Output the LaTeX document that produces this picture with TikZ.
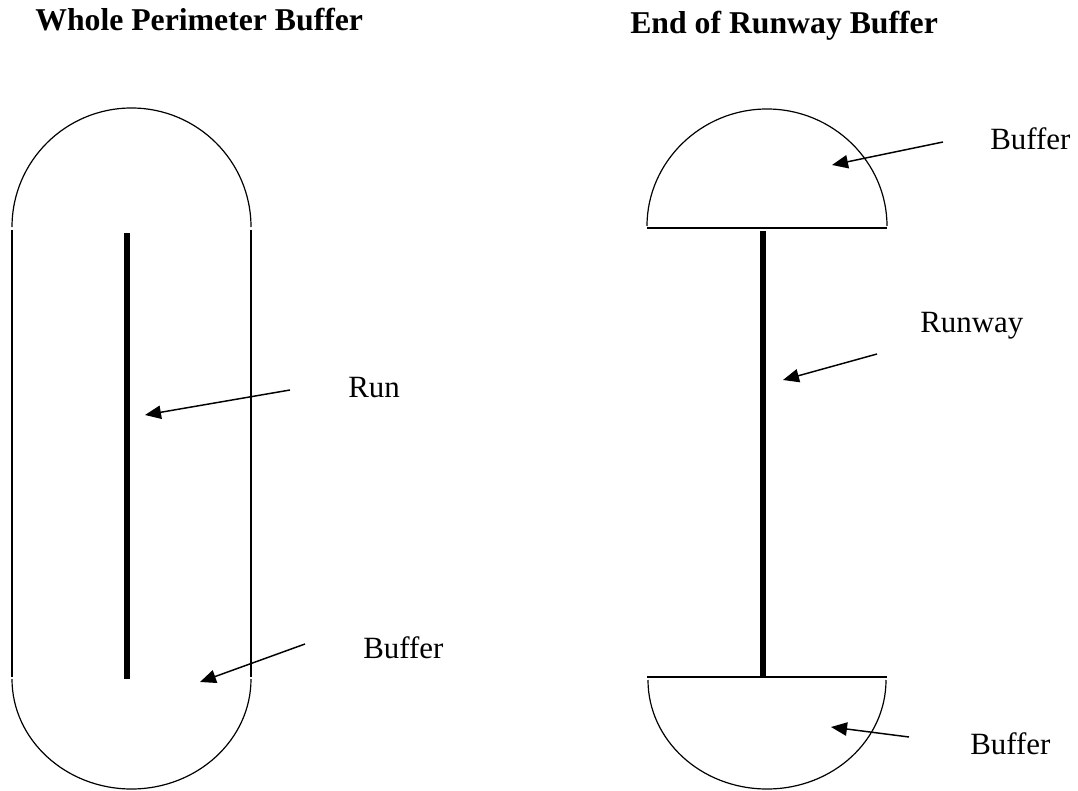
\documentclass[tikz,border=0pt]{standalone}
\usepackage{fontspec}
\setmainfont{Liberation Serif}
\usetikzlibrary{arrows.meta}
\tikzset{
  outline/.style={line width=0.9pt, black},
  strip/.style={line width=3.8pt, black},
  pointer/.style={line width=1.1pt, -{Triangle[length=12pt,width=10pt]}},
  title/.style={anchor=base west, inner sep=0pt, font=\fontsize{23.8}{28}\selectfont\bfseries},
  label/.style={anchor=base west, inner sep=0pt, font=\fontsize{23.2}{27}\selectfont},
}
\begin{document}
\begin{tikzpicture}[x=0.75pt,y=-0.75pt]
\useasboundingbox (0,0) rectangle (1078,791);
% titles
\node[title] (t1) at (35,31) {Whole Perimeter Buffer};
\node[title] (t2) at (630,34) {End of Runway Buffer};
% left: whole perimeter buffer
\draw[outline] (12,227) .. controls (12,161.3) and (65.5,108) .. (131.5,108)
                        .. controls (197.5,108) and (251,161.3) .. (251,227);
\draw[outline] (12,230) -- (12,677);
\draw[outline] (251,230) -- (251,677);
\draw[outline] (12,679) .. controls (12,739.5) and (65.5,789) .. (131.5,789)
                        .. controls (197.5,789) and (251,739.5) .. (251,679);
\coordinate (runtop) at (127,233);
\coordinate (runbot) at (127,679);
\draw[strip] (runtop) -- (runbot);
\node[label] (lrun) at (348,398) {Run};
\node[label] (lbuf) at (363,658) {Buffer};
\coordinate (a1s) at (290,390);
\coordinate (a1e) at (145,415);
\coordinate (a2s) at (305,644);
\coordinate (a2e) at (200,682);
\draw[pointer] (a1s) -- (a1e);
\draw[pointer] (a2s) -- (a2e);
% right: end of runway buffer
\draw[outline] (647,226) .. controls (647,162.3) and (700.7,109) .. (767,109)
                         .. controls (833.3,109) and (887,162.3) .. (887,226);
\draw[outline] (647,228) -- (887,228);
\coordinate (rwtop) at (763,231);
\coordinate (rwbot) at (763,677);
\draw[strip] (rwtop) -- (rwbot);
\draw[outline] (647,677) -- (887,677);
\draw[outline] (648,680) .. controls (648,739.8) and (700.7,789) .. (767,789)
                         .. controls (833.3,789) and (886,739.8) .. (886,680);
\node[label] (rbuf1) at (990,150) {Buffer};
\node[label] (rrun) at (920,333) {Runway};
\node[label] (rbuf2) at (970,754) {Buffer};
\coordinate (b1s) at (943,142);
\coordinate (b1e) at (832,165);
\coordinate (b2s) at (877,354);
\coordinate (b2e) at (783,380);
\coordinate (b3s) at (909,737);
\coordinate (b3e) at (831,727);
\draw[pointer] (b1s) -- (b1e);
\draw[pointer] (b2s) -- (b2e);
\draw[pointer] (b3s) -- (b3e);
\end{tikzpicture}
\end{document}
